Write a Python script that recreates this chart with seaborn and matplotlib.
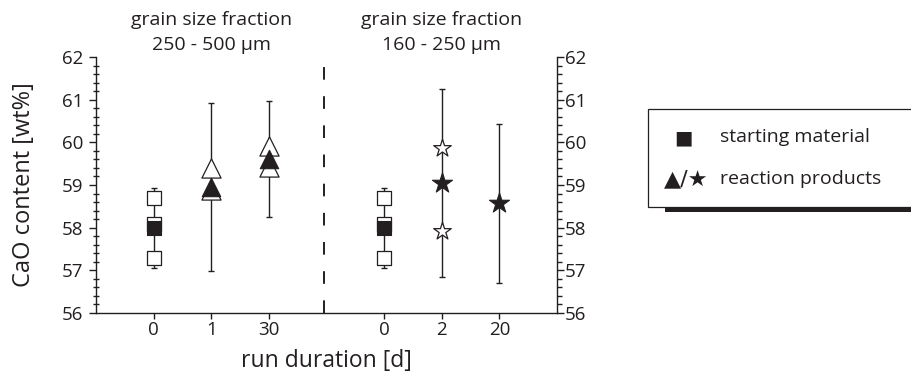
import matplotlib
matplotlib.use("Agg")
import matplotlib.pyplot as plt
import matplotlib.transforms as mtransforms
from matplotlib.patches import Rectangle
from matplotlib.ticker import MultipleLocator
import pandas as pd
import seaborn as sns

# Mean CaO content (± 1 sd) per run, plotted at category slots along x
positions = [1, 2, 3, 5, 6, 7]
duration_labels = ["0", "1", "30", "0", "2", "20"]
mean_cao = [58.00, 58.95, 59.60, 58.00, 59.05, 58.57]
sd_cao = [0.94, 1.97, 1.36, 0.94, 2.21, 1.86]
mean_markers = ["s", "^", "^", "s", "*", "*"]

# Individual analyses (open symbols)
single_pos = [1, 1, 1, 2, 2, 3, 3, 5, 5, 5, 6, 6]
single_cao = [57.28, 58.08, 58.69, 58.88, 59.40, 59.42, 59.91,
              57.28, 58.08, 58.69, 57.93, 59.86]
single_markers = ["s", "s", "s", "^", "^", "^", "^", "s", "s", "s", "*", "*"]

group_line1 = ["grain size fraction", "grain size fraction"]
group_line2 = ["250 - 500 µm", "160 - 250 µm"]
group_centers = [2, 6]
divider_x = 3.95

INK = "#231f20"
W, H = 912, 378

sns.set_theme(style="white")
plt.rcParams["font.family"] = ["Open Sans", "DejaVu Sans"]
plt.rcParams["text.color"] = INK
plt.rcParams["axes.labelcolor"] = INK
plt.rcParams["xtick.color"] = INK
plt.rcParams["ytick.color"] = INK

fig = plt.figure(figsize=(W / 100, H / 100), dpi=100)
ax = fig.add_axes([96 / W, 1 - 313 / H, (557 - 96) / W, (313 - 57) / H])

# error bars
ax.errorbar(positions, mean_cao, yerr=sd_cao, fmt="none", ecolor=INK,
            elinewidth=1.0, capsize=2.2, capthick=1.0, zorder=2)

sizes_open = {"s": 92, "^": 190, "*": 175}
sizes_mean = {"s": 92, "^": 175, "*": 230}

single = pd.DataFrame({"pos": single_pos, "cao": single_cao, "marker": single_markers})
means = pd.DataFrame({"pos": positions, "cao": mean_cao, "marker": mean_markers})

for mk, grp in single.groupby("marker"):
    sns.scatterplot(data=grp, x="pos", y="cao", marker=mk, s=sizes_open[mk],
                    color="white", edgecolor=INK, linewidth=0.9, ax=ax, zorder=3)
for mk, grp in means.groupby("marker"):
    sns.scatterplot(data=grp, x="pos", y="cao", marker=mk, s=sizes_mean[mk],
                    color=INK, edgecolor=INK, linewidth=0.8, ax=ax, zorder=4)

ax.axvline(divider_x, color=INK, lw=1.4, linestyle=(0, (6.5, 8.5)), zorder=1)

ax.set_xlim(0, 8)
ax.set_ylim(56, 62)
ax.set_xticks(positions, duration_labels)
ax.yaxis.set_major_locator(MultipleLocator(1))
ax.yaxis.set_minor_locator(MultipleLocator(0.2))

for side in ["top", "right"]:
    ax.spines[side].set_visible(False)
for side in ["left", "bottom"]:
    ax.spines[side].set_color(INK)
    ax.spines[side].set_linewidth(1.0)

ax.tick_params(axis="x", which="major", direction="out", length=4, width=1,
               labelsize=13.5, pad=2, bottom=True)
ax.tick_params(axis="y", which="major", direction="out", length=5, width=1,
               labelsize=13.5, pad=4, left=True)
ax.tick_params(axis="y", which="minor", direction="inout", length=5, width=1, left=True)

ax.set_xlabel("run duration [d]", fontsize=16.5)
ax.set_ylabel("CaO content [wt%]", fontsize=17)
ax.xaxis.set_label_coords(0.5, -0.14)
ax.yaxis.set_label_coords(-0.13, 0.5)

# right-hand axis
ax2 = ax.twinx()
ax2.set_ylim(56, 62)
ax2.yaxis.set_major_locator(MultipleLocator(1))
ax2.yaxis.set_minor_locator(MultipleLocator(0.2))
for side in ["top", "left", "bottom"]:
    ax2.spines[side].set_visible(False)
ax2.spines["right"].set_color(INK)
ax2.spines["right"].set_linewidth(1.0)
ax2.tick_params(axis="y", which="major", direction="out", length=5, width=1,
                labelsize=13.5, pad=0.5, right=True)
ax2.tick_params(axis="y", which="minor", direction="out", length=3.5, width=1, right=True)
ax2.grid(False)
ax.grid(False)

# group headings above the two halves
trans = mtransforms.blended_transform_factory(ax.transData, fig.transFigure)
for xc, l1, l2 in zip(group_centers, group_line1, group_line2):
    ax.text(xc, 1 - 20 / H, l1, transform=trans, ha="center", va="center", fontsize=14)
    ax.text(xc, 1 - 45 / H, l2, transform=trans, ha="center", va="center", fontsize=14)

# legend box with drop shadow
fig.add_artist(Rectangle((665 / W, 1 - 212 / H), 300 / W, 5 / H, transform=fig.transFigure,
                         facecolor=INK, edgecolor="none", zorder=5))
fig.add_artist(Rectangle((648 / W, 1 - 207 / H), 300 / W, 98 / H, transform=fig.transFigure,
                         facecolor="white", edgecolor=INK, linewidth=0.9, zorder=6))
fig.text(683 / W, 1 - 138 / H, "■", family="DejaVu Sans", fontsize=14,
         ha="center", va="center", zorder=7)
fig.text(686 / W, 1 - 179 / H, "▲/★", family="DejaVu Sans", fontsize=16,
         ha="center", va="center", zorder=7)
fig.text(720 / W, 1 - 137 / H, "starting material", fontsize=14,
         ha="left", va="center", zorder=7)
fig.text(720 / W, 1 - 179 / H, "reaction products", fontsize=14,
         ha="left", va="center", zorder=7)

fig.savefig("out.png", dpi=100)
